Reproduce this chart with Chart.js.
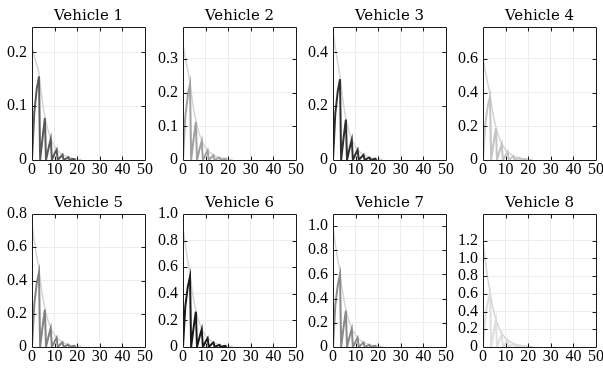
<!DOCTYPE html>
<html><head><meta charset="utf-8">
<script src="https://cdn.jsdelivr.net/npm/chart.js@4"></script>
<style>
html,body{margin:0;padding:0;background:#fff;overflow:hidden;width:603px;height:376px;position:relative}
canvas{position:absolute}
</style></head><body>
<script>
// ---- data ----
const lags = [0,1,2,3,4,5,6,7,8,9,10,11,12,13,14,15,16,17,18,19,20,21,22];
const zigLags = [0,1.0,2.1,3.1,3.6,4.9,5.7,6.2,7.5,8.3,8.8,10.1,10.9,11.4,12.7,13.5,14.0,15.3,16.1,16.6,17.9,18.7,19.2];
const titles = ['Vehicle 1','Vehicle 2','Vehicle 3','Vehicle 4','Vehicle 5','Vehicle 6','Vehicle 7','Vehicle 8'];
const xTicks = [0,10,20,30,40,50];

const env1 = [0.21,0.193,0.178,0.164,0.126,0.096,0.074,0.057,0.043,0.033,0.025,0.019,0.015,0.011,0.009,0.007,0.005,0.004,0.003,0.002,0.002,0.001,0.001];
const env2 = [0.345,0.305,0.270,0.238,0.182,0.140,0.107,0.082,0.063,0.048,0.037,0.028,0.022,0.017,0.013,0.010,0.008,0.006,0.004,0.003,0.003,0.002,0.001];
const env3 = [0.48,0.419,0.365,0.318,0.244,0.187,0.143,0.109,0.084,0.064,0.049,0.038,0.029,0.022,0.017,0.013,0.010,0.008,0.006,0.004,0.003,0.003,0.002];
const env4 = [0.61,0.530,0.460,0.400,0.306,0.235,0.180,0.138,0.106,0.081,0.062,0.047,0.036,0.028,0.021,0.016,0.012,0.010,0.007,0.006,0.004,0.003,0.002];
const env5 = [0.74,0.639,0.552,0.477,0.365,0.280,0.214,0.164,0.126,0.096,0.074,0.056,0.043,0.033,0.025,0.019,0.015,0.011,0.009,0.007,0.005,0.004,0.003];
const env6 = [0.90,0.770,0.658,0.562,0.430,0.330,0.252,0.193,0.148,0.114,0.087,0.067,0.051,0.039,0.030,0.023,0.018,0.013,0.010,0.008,0.006,0.005,0.003];
const env7 = [0.99,0.854,0.737,0.636,0.487,0.373,0.286,0.219,0.168,0.129,0.099,0.075,0.058,0.044,0.034,0.026,0.020,0.015,0.012,0.009,0.007,0.005,0.004];
const env8 = [1.20,0.973,0.789,0.640,0.490,0.376,0.287,0.220,0.169,0.129,0.099,0.076,0.058,0.045,0.034,0.026,0.020,0.015,0.012,0.009,0.007,0.005,0.004];

const zig1 = [0,0.088,0.132,0.155,0,0.050,0.078,0,0.025,0.039,0,0.013,0.019,0,0.006,0.010,0,0.003,0.005,0,0.002,0.002,0];
const zig2 = [0,0.128,0.191,0.225,0,0.073,0.113,0,0.037,0.056,0,0.018,0.028,0,0.009,0.014,0,0.005,0.007,0,0.002,0.004,0];
const zig3 = [0,0.171,0.255,0.300,0,0.098,0.150,0,0.049,0.075,0,0.024,0.038,0,0.012,0.019,0,0.006,0.009,0,0.003,0.005,0];
const zig4 = [0,0.214,0.319,0.375,0,0.122,0.188,0,0.061,0.094,0,0.030,0.047,0,0.015,0.023,0,0.008,0.012,0,0.004,0.006,0];
const zig5 = [0,0.257,0.383,0.450,0,0.146,0.225,0,0.073,0.113,0,0.037,0.056,0,0.018,0.028,0,0.009,0.014,0,0.005,0.007,0];
const zig6 = [0,0.302,0.450,0.530,0,0.172,0.265,0,0.086,0.133,0,0.043,0.066,0,0.022,0.033,0,0.011,0.017,0,0.005,0.008,0];
const zig7 = [0,0.342,0.510,0.600,0,0.195,0.300,0,0.098,0.150,0,0.049,0.075,0,0.024,0.038,0,0.012,0.019,0,0.006,0.009,0];
const zig8 = [0,0.342,0.510,0.600,0,0.195,0.300,0,0.098,0.150,0,0.049,0.075,0,0.024,0.038,0,0.012,0.019,0,0.006,0.009,0];

const yMax = [0.247,0.395,0.494,0.79,0.8,1.0,1.1,1.5];
const yTicks1 = [0,0.1,0.2];
const yTicks2 = [0,0.1,0.2,0.3];
const yTicks3 = [0,0.2,0.4];
const yTicks4 = [0,0.2,0.4,0.6];
const yTicks5 = [0,0.2,0.4,0.6,0.8];
const yTicks6 = [0,0.2,0.4,0.6,0.8,1.0];
const yTicks7 = [0,0.2,0.4,0.6,0.8,1.0];
const yTicks8 = [0,0.2,0.4,0.6,0.8,1.0,1.2];

const envs = [env1,env2,env3,env4,env5,env6,env7,env8];
const zigs = [zig1,zig2,zig3,zig4,zig5,zig6,zig7,zig8];
const yTickSets = [yTicks1,yTicks2,yTicks3,yTicks4,yTicks5,yTicks6,yTicks7,yTicks8];

// ---- styles ----
const zigColors = ['#5a5a5a','#a0a0a0','#303030','#c4c4c4','#828282','#1a1a1a','#8a8a8a','#dedede'];
const envColor = '#d4d4d4';
const colLeft = [0,151,301,451];
const rowTop = [0,187];
const TITLE_FONT = {family:'"DejaVu Serif", serif', size:15, weight:'normal', lineHeight:1.2};
const TICK_FONT = {family:'"Liberation Serif", serif', size:16, weight:'normal', lineHeight:1.2};

const framePlugin = {
  id:'frame',
  afterDatasetsDraw(chart){
    const {ctx, chartArea:a, scales:{x,y}} = chart;
    const L = Math.round(a.left)+0.5, R = Math.round(a.right)+0.5;
    const T = Math.round(a.top)+0.5, B = Math.round(a.bottom)+0.5;
    ctx.save();
    ctx.strokeStyle = '#1a1a1a';
    ctx.lineWidth = 1;
    ctx.beginPath();
    ctx.rect(L, T, R-L, B-T);
    const tl = 4;
    y.ticks.forEach(t=>{
      if (t.value<=y.min || t.value>=y.max) return;
      const py = Math.round(y.getPixelForValue(t.value))+0.5;
      ctx.moveTo(L, py); ctx.lineTo(L+tl, py);
      ctx.moveTo(R, py); ctx.lineTo(R-tl, py);
    });
    x.ticks.forEach(t=>{
      if (t.value<=x.min || t.value>=x.max) return;
      const px = Math.round(x.getPixelForValue(t.value))+0.5;
      ctx.moveTo(px, B); ctx.lineTo(px, B-tl);
      ctx.moveTo(px, T); ctx.lineTo(px, T+tl);
    });
    ctx.stroke();
    ctx.restore();
  }
};

function fmt(v){ return v===0 ? '0' : v.toFixed(1); }

for (let i=0;i<8;i++){
  const c = i%4, r = Math.floor(i/4);
  const cv = document.createElement('canvas');
  cv.width = 160; cv.height = 186;
  cv.style.left = colLeft[c]+'px'; cv.style.top = rowTop[r]+'px';
  cv.style.width = '160px'; cv.style.height = '186px';
  document.body.appendChild(cv);
  const ticksY = yTickSets[i];
  new Chart(cv, {
    type:'line',
    data:{datasets:[
      {data: zigLags.map((x,j)=>({x, y:zigs[i][j]})), borderColor: zigColors[i], borderWidth:2, pointRadius:0, tension:0},
      {data: lags.map((x,j)=>({x, y:envs[i][j]})), borderColor: envColor, borderWidth:1.5, pointRadius:0, tension:0}
    ]},
    options:{
      responsive:false, animation:false, devicePixelRatio:1,
      layout:{padding:{left:0,right:15,top:0,bottom:0}, autoPadding:false},
      plugins:{
        legend:{display:false}, tooltip:{enabled:false},
        title:{display:true, text:titles[i], fullSize:false, color:'#000', font:TITLE_FONT, padding:{top:7,bottom:2}}
      },
      scales:{
        x:{type:'linear', min:0, max:50,
           afterBuildTicks:s=>{ s.ticks = xTicks.map(v=>({value:v})); },
           afterFit:s=>{ s.height = 26; },
           grid:{color:'#ededed', drawTicks:false, lineWidth:1},
           border:{display:false},
           ticks:{color:'#000', font:TICK_FONT, padding:0, maxRotation:0, autoSkip:false, callback:v=>String(v)}},
        y:{type:'linear', min:0, max:yMax[i],
           afterBuildTicks:s=>{ s.ticks = ticksY.map(v=>({value:v})); },
           afterFit:s=>{ s.width = 32; },
           grid:{color:'#ededed', drawTicks:false, lineWidth:1},
           border:{display:false},
           ticks:{color:'#000', font:TICK_FONT, padding:5, autoSkip:false, callback:v=>fmt(v)}}
      }
    },
    plugins:[framePlugin]
  });
}
</script>
</body></html>
